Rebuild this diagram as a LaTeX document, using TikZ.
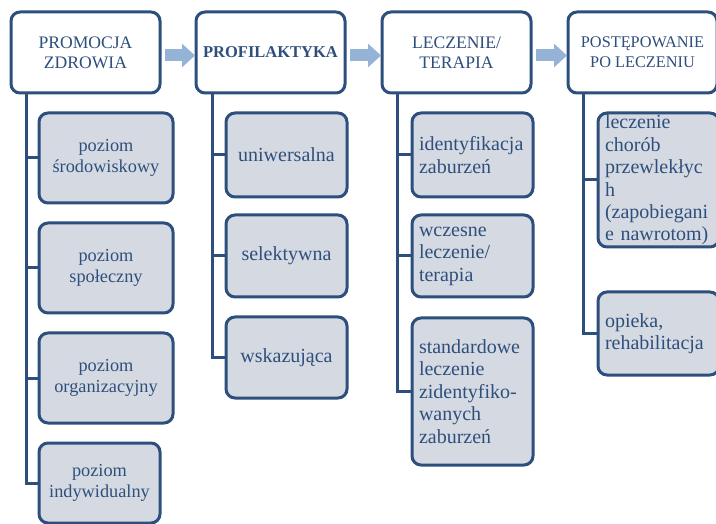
\documentclass[tikz,border=0pt]{standalone}
\usepackage{fontspec}
\setmainfont{Liberation Serif}
\usetikzlibrary{arrows.meta}
\definecolor{boxblue}{HTML}{2C4F7E}
\definecolor{txtblue}{HTML}{2E4F7C}
\definecolor{subfill}{HTML}{D5DAE2}
\definecolor{flowblue}{HTML}{95B3D7}
\newcommand{\fsz}[2]{\rmfamily\fontsize{#1}{#2}\selectfont}

\begin{document}
\begin{tikzpicture}[x=1pt, y=-1pt,
    topbox/.style={draw=boxblue, line width=3pt, rounded corners=9pt, fill=white,
      minimum width=149pt, minimum height=81pt, anchor=north west, inner sep=0pt,
      outer sep=0pt, align=center, text=txtblue},
    subbox/.style={draw=boxblue, line width=3pt, rounded corners=9pt, fill=subfill,
      minimum width=121pt, anchor=north west, inner ysep=0pt, inner xsep=7pt,
      outer sep=0pt, align=center, text=txtblue, font=\fsz{20pt}{22.5pt}},
    leftbox/.style={subbox, align=left, text width=107pt},
    link/.style={draw=boxblue, line width=3pt},
    flow/.style={draw=flowblue, line width=12pt, -{Triangle[length=13pt,width=23pt]}}]
    \useasboundingbox (0,0) rectangle (716,524);
    \clip (0,0) rectangle (716,524);

    % glowne etapy
    \node [topbox, font=\fsz{17.6pt}{20pt}] (pz) at (11,12) {PROMOCJA\\ZDROWIA};
    \node [topbox, font=\fsz{16.5pt}{20pt}\bfseries] (pf) at (196,12) {PROFILAKTYKA};
    \node [topbox, font=\fsz{17.6pt}{20pt}] (lt) at (382,12) {LECZENIE/\\TERAPIA};
    \node [topbox, font=\fsz{16.3pt}{20pt}] (pl) at (568,12) {POSTĘPOWANIE\\PO LECZENIU};

    % promocja zdrowia
    \node [subbox, minimum width=134pt, minimum height=90pt, font=\fsz{18.3pt}{20.5pt}] (pz1) at (39,113) {poziom\\środowiskowy};
    \node [subbox, minimum width=134pt, minimum height=90pt, font=\fsz{18.3pt}{20.5pt}] (pz2) at (39,223) {poziom\\społeczny};
    \node [subbox, minimum width=134pt, minimum height=90pt, font=\fsz{18.3pt}{20.5pt}] (pz3) at (39,333) {poziom\\organizacyjny};
    \node [subbox, minimum height=80pt, font=\fsz{18.3pt}{20.5pt}] (pz4) at (39,443) {poziom\\indywidualny};

    % profilaktyka
    \node [subbox, minimum height=84pt] (pf1) at (226,113) {uniwersalna};
    \node [subbox, minimum height=82pt] (pf2) at (226,215) {selektywna};
    \node [subbox, minimum height=81pt] (pf3) at (226,317) {wskazująca};

    % leczenie
    \node [leftbox, minimum height=84pt] (lt1) at (412,113) {identyfikacja\\zaburzeń};
    \node [leftbox, minimum height=82pt] (lt2) at (412,215) {wczesne\\leczenie/\\terapia};
    \node [leftbox, minimum height=147pt] (lt3) at (412,318) {standardowe\\leczenie\\zidentyfiko-\\wanych\\zaburzeń};

    % po leczeniu
    \node [leftbox, minimum height=134pt, font=\fsz{20pt}{22.4pt}] (pl1) at (598,113) {leczenie\\chorób\\przewlekłyc\\h\\(zapobiegani\\e nawrotom)};
    \node [leftbox, minimum height=83pt] (pl2) at (598,292) {opieka,\\rehabilitacja};

    \draw [flow] ([xshift=5pt,yshift=-3pt]pz.east) -- ([xshift=-1pt,yshift=-3pt]pf.west);
    \draw [flow] ([xshift=5pt,yshift=-3pt]pf.east) -- ([xshift=-1pt,yshift=-3pt]lt.west);
    \draw [flow] ([xshift=5pt,yshift=-3pt]lt.east) -- ([xshift=-1pt,yshift=-3pt]pl.west);

    \draw [link] ([xshift=15pt]pz.south west) |- (pz1.west);
    \draw [link] ([xshift=15pt]pz.south west) |- (pz2.west);
    \draw [link] ([xshift=15pt]pz.south west) |- (pz3.west);
    \draw [link] ([xshift=15pt]pz.south west) |- (pz4.west);
    \draw [link] ([xshift=16pt]pf.south west) |- (pf1.west);
    \draw [link] ([xshift=16pt]pf.south west) |- (pf2.west);
    \draw [link] ([xshift=16pt]pf.south west) |- (pf3.west);
    \draw [link] ([xshift=15pt]lt.south west) |- (lt1.west);
    \draw [link] ([xshift=15pt]lt.south west) |- (lt2.west);
    \draw [link] ([xshift=15pt]lt.south west) |- (lt3.west);
    \draw [link] ([xshift=15pt]pl.south west) |- (pl1.west);
    \draw [link] ([xshift=15pt]pl.south west) |- (pl2.west);
  \end{tikzpicture}
\end{document}
